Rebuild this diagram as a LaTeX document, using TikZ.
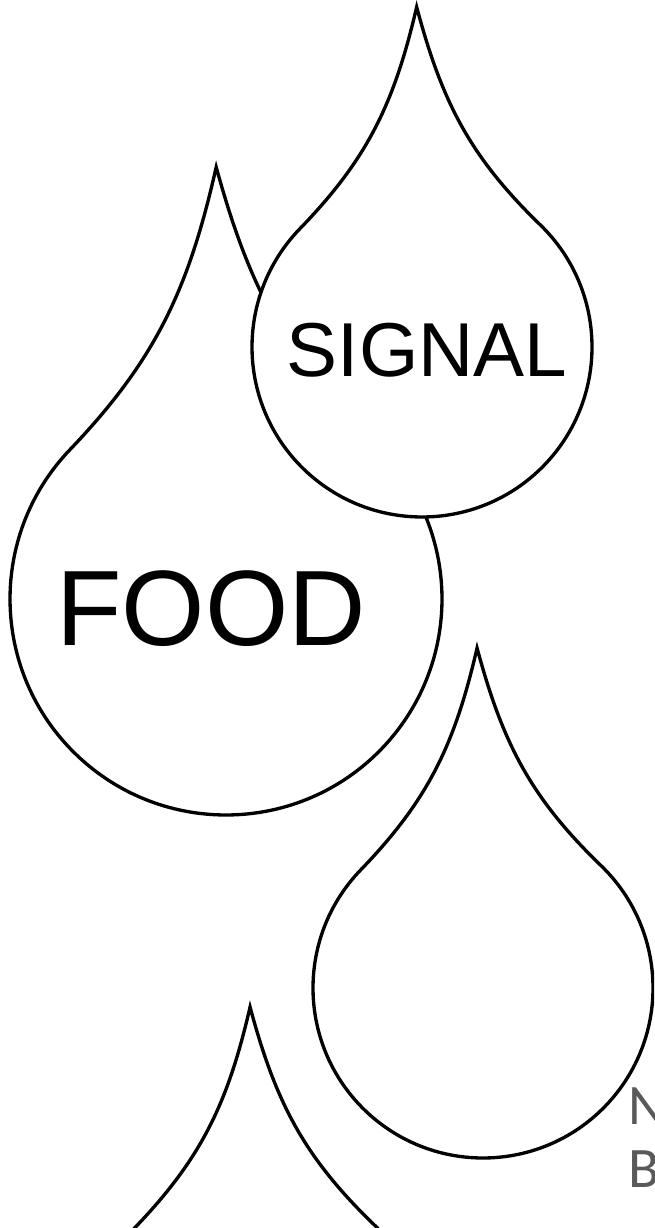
\documentclass[tikz,border=0pt]{standalone}
\usepackage{fontspec}
\setmainfont{Liberation Sans}
\newfontfamily\notefont{Carlito}
\usepackage{tikz}
\definecolor{notegray}{RGB}{89,89,89}
\tikzset{
  dropline/.style={draw=black, fill=white, line width=1.9pt},
  pics/drop/.style={code={
    \path[dropline] (0,2) .. controls (-0.14,1.44) and (-0.299,1.115) .. (135:1)
      arc[start angle=135, end angle=405, radius=1]
      .. controls (0.299,1.115) and (0.14,1.44) .. (0,2) -- cycle;
  }},
  droplabel/.style={inner sep=0pt, text=black},
  notelabel/.style={inner sep=0pt, text=notegray, anchor=base west,
    font=\notefont\fontsize{32.6}{36}\selectfont}
}

\begin{document}
\begin{tikzpicture}[x=0.02cm, y=0.02cm]
  \useasboundingbox (0,0) rectangle (654,1228);
  \clip (0,0) rectangle (654,1228);

  % Drops
  \pic[rotate=1.3, scale=216] at (226,629) {drop};
  \pic[rotate=0.9, scale=170] at (422,881) {drop};
  \pic[rotate=1, scale=170] at (483,240) {drop};
  \pic[rotate=1, scale=170] at (256,-119) {drop};

  % Labels
  \node[droplabel, font=\fontsize{61}{61}\selectfont] (food) at (211,619) {FOOD};
  \node[droplabel, font=\fontsize{43.5}{44}\selectfont] (signal) at (427,878) {SIGNAL};
  \node[notelabel] (noten) at (628,103) {N};
  \node[notelabel] (noteb) at (628,40) {B};
\end{tikzpicture}
\end{document}
